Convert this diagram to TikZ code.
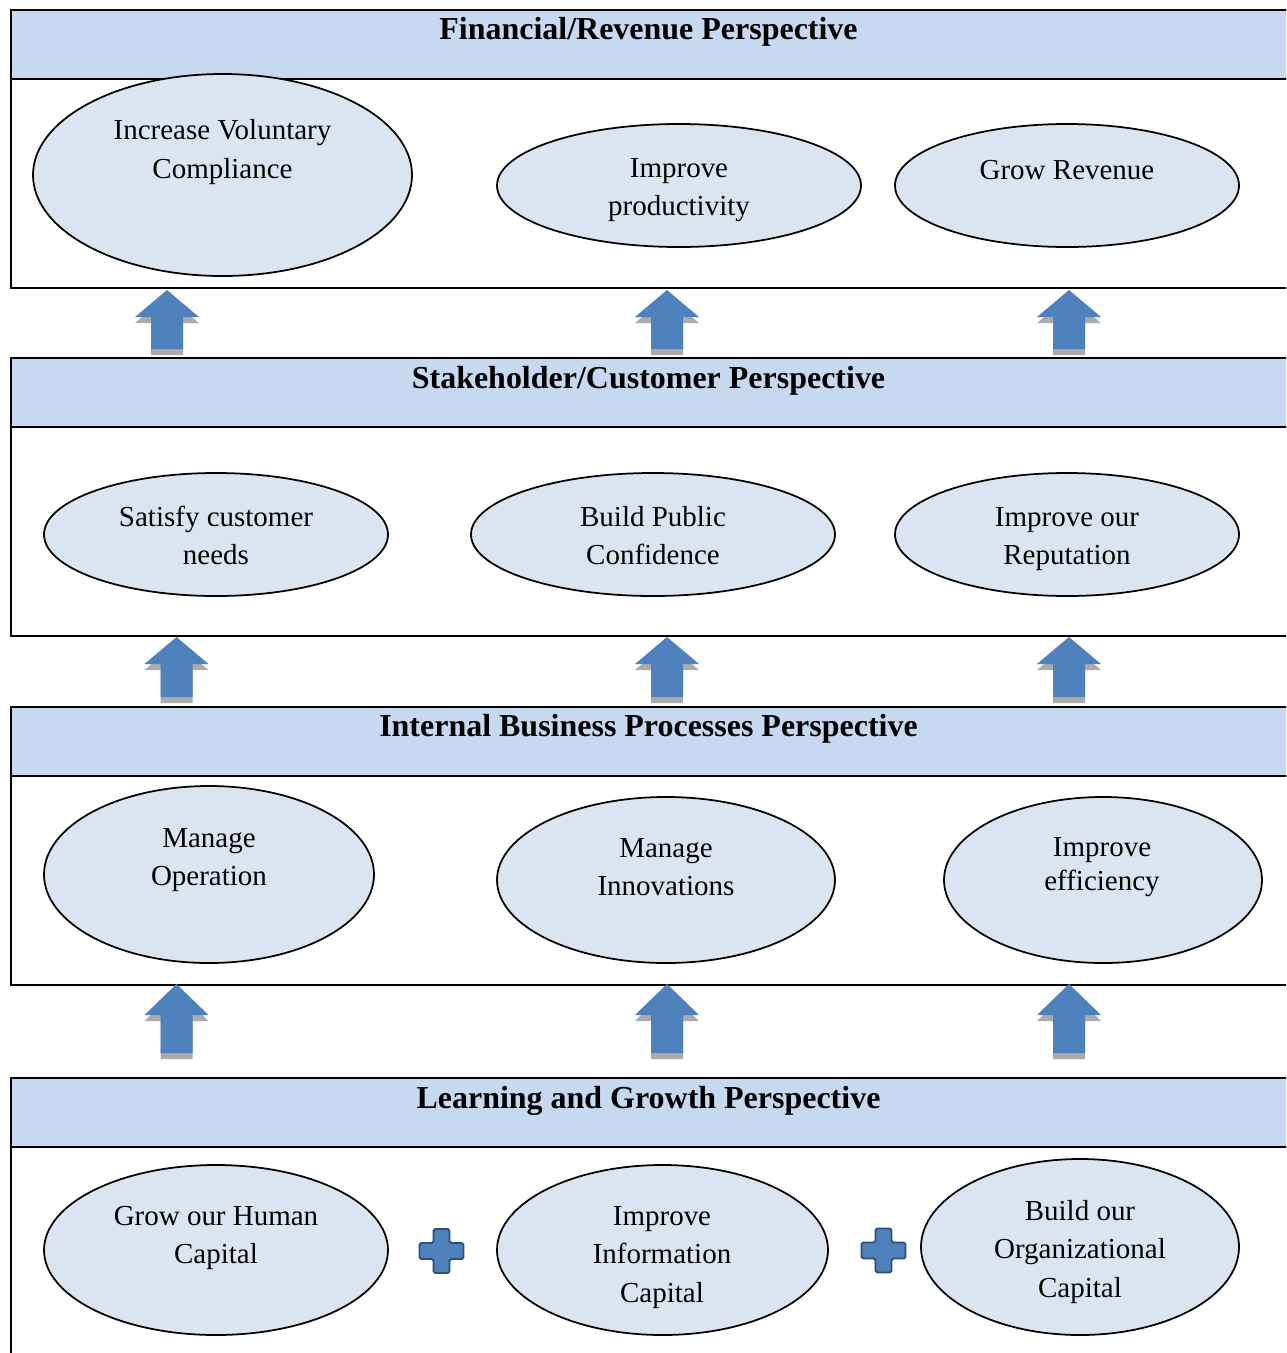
\documentclass[tikz,border=0pt]{standalone}
\usepackage{fontspec}
\setmainfont{Liberation Serif}
\usetikzlibrary{shapes.geometric}
\definecolor{bschead}{HTML}{C6D9F1}
\definecolor{bscgoal}{HTML}{DBE5F1}
\definecolor{bscblue}{HTML}{4F81BD}
\definecolor{bscedge}{HTML}{2F5077}
\definecolor{bscshade}{HTML}{ABABAB}
\newcommand{\PX}{0.02cm}

% up block arrow: centre x, tip y, head height, full length (all in px units)
\newcommand{\uparr}[4]{%
  \foreach \c/\s in {bscshade/6, bscblue/0} {
    \fill[\c, shift={(0,\s)}] (#1,#2) -- ({#1+32},{#2+#3}) -- ({#1+16},{#2+#3})
      -- ({#1+16},{#2+#4}) -- ({#1-16},{#2+#4}) -- ({#1-16},{#2+#3})
      -- ({#1-32},{#2+#3}) -- cycle;
  }}
% plus sign between two capitals
\newcommand{\plussign}[2]{%
  \draw[plus] ({#1-8},{#2-22}) -- ({#1+8},{#2-22}) -- ({#1+8},{#2-8}) -- ({#1+22},{#2-8})
    -- ({#1+22},{#2+8}) -- ({#1+8},{#2+8}) -- ({#1+8},{#2+22}) -- ({#1-8},{#2+22})
    -- ({#1-8},{#2+8}) -- ({#1-22},{#2+8}) -- ({#1-22},{#2-8}) -- ({#1-8},{#2-8}) -- cycle;}

\begin{document}
\begin{tikzpicture}[
    x=\PX, y=-\PX,
    frame/.style={draw=black, line width=1.4pt},
    band/.style={frame, fill=bschead},
    title/.style={font=\bfseries\fontsize{18.2}{22}\selectfont, anchor=base},
    goal/.style={ellipse, draw=black, fill=bscgoal, line width=1pt, inner sep=0pt},
    gtext/.style={align=center, font=\fontsize{16.5}{22}\selectfont},
    plus/.style={draw=bscedge, fill=bscblue, line width=1.1pt, rounded corners=1pt},
  ]
  \useasboundingbox (0,0) rectangle (1286,1353);
  \clip (0,0) rectangle (1286,1353);

  %% ---- the four perspective panels ----
  \foreach \t in {10,358,707,1078} {
    \draw[band] (11,\t) rectangle (1300,{\t+69});
    \draw[frame] (11,{\t+69}) rectangle (1300,{\t+278});
  }
  \node[title] (fin)   at (648.5,39)   {Financial/Revenue Perspective};
  \node[title] (stake) at (648.5,388)  {Stakeholder/Customer Perspective};
  \node[title] (proc)  at (648.5,736)  {Internal Business Processes Perspective};
  \node[title] (learn) at (648.5,1108) {Learning and Growth Perspective};

  %% ---- financial goals ----
  \node[goal, minimum width=379*\PX, minimum height=202*\PX] (fin1) at (222.5,175) {};
  \node[goal, minimum width=364*\PX, minimum height=123*\PX] (fin2) at (679,185.5) {};
  \node[goal, minimum width=344*\PX, minimum height=123*\PX] (fin3) at (1067,185.5) {};
  \node[gtext] (fin1-t) at (222.5,152) {Increase Voluntary\\Compliance};
  \node[gtext, font=\fontsize{16.5}{21.5}\selectfont] (fin2-t) at (679,190.5) {Improve\\productivity};
  \node[gtext] (fin3-t) at (1067,170) {Grow Revenue};

  %% ---- stakeholder goals ----
  \node[goal, minimum width=344*\PX, minimum height=123*\PX] (stake1) at (216,534.5) {};
  \node[goal, minimum width=364*\PX, minimum height=123*\PX] (stake2) at (653,534.5) {};
  \node[goal, minimum width=344*\PX, minimum height=123*\PX] (stake3) at (1067,534.5) {};
  \node[gtext] (stake1-t) at (216,535.5) {Satisfy customer\\needs};
  \node[gtext] (stake2-t) at (653,535.5) {Build Public\\Confidence};
  \node[gtext] (stake3-t) at (1067,539) {Improve our\\Reputation};

  %% ---- process goals ----
  \node[goal, minimum width=330*\PX, minimum height=177*\PX] (proc1) at (209,874.5) {};
  \node[goal, minimum width=338*\PX, minimum height=166*\PX] (proc2) at (666,880) {};
  \node[goal, minimum width=318*\PX, minimum height=166*\PX] (proc3) at (1103,880) {};
  \node[gtext] (proc1-t) at (209,860) {Manage\\Operation};
  \node[gtext] (proc2-t) at (666,867) {Manage\\Innovations};
  \node[gtext, font=\fontsize{16.5}{19.3}\selectfont] (proc3-t) at (1102,867) {Improve\\efficiency};

  %% ---- learning goals ----
  \node[goal, minimum width=344*\PX, minimum height=170*\PX] (learn1) at (216,1250) {};
  \node[goal, minimum width=331*\PX, minimum height=170*\PX] (learn2) at (662.5,1250) {};
  \node[goal, minimum width=318*\PX, minimum height=176*\PX] (learn3) at (1080,1247) {};
  \node[gtext] (learn1-t) at (216,1238) {Grow our Human\\Capital};
  \node[gtext] (learn2-t) at (662,1257.5) {Improve\\Information\\Capital};
  \node[gtext] (learn3-t) at (1080,1252) {Build our\\Organizational\\Capital};

  \plussign{441.5}{1251}
  \plussign{883.5}{1250.5}

  %% ---- upward arrows between the panels ----
  \uparr{167}{290}{27}{59}
  \uparr{667}{290}{27}{59}
  \uparr{1069}{290}{27}{59}
  \uparr{176.5}{637}{27}{60}
  \uparr{667}{637}{27}{60}
  \uparr{1069}{637}{27}{60}
  \uparr{176.5}{984}{31}{69}
  \uparr{667}{984}{31}{69}
  \uparr{1069}{984}{31}{69}
\end{tikzpicture}
\end{document}
